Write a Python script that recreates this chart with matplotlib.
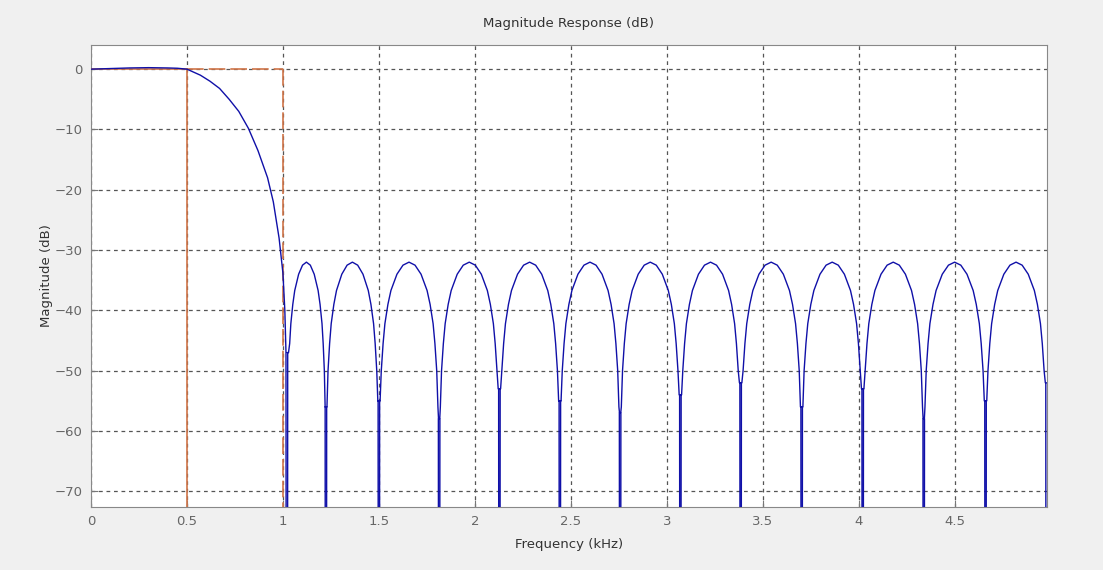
#!/usr/bin/env python3
import numpy as np
import matplotlib
matplotlib.use('Agg')
import matplotlib.pyplot as plt

# Banda passante e transizione
pass_f = [0.0, 0.1, 0.2, 0.3, 0.4, 0.45, 0.5, 0.57, 0.62, 0.67, 0.72, 0.77, 0.82,
          0.87, 0.92, 0.95, 0.98, 1.0, 1.01, 1.016]
pass_db = [0.0, 0.1, 0.2, 0.25, 0.2, 0.15, 0.0, -1.0, -2.0, -3.2, -5.0, -7.0, -9.8,
           -13.5, -18.0, -22.0, -28.0, -33.8, -40.0, -47.0]

# Zeri della banda attenuata (kHz) e profondita' visibile della punta (dB)
null_f = [1.021, 1.224, 1.500, 1.814, 2.128, 2.443, 2.757, 3.071, 3.385,
          3.703, 4.021, 4.339, 4.661, 4.979]
null_tip = [-47, -56, -55, -58, -53, -55, -57, -54, -52, -56, -53, -58, -55, -52]
lobe_peak = [-32.0] * 13

# Forma del lobo: posizione relativa tra due zeri e dB rispetto al picco
lobe_pos = [0.01, 0.02, 0.04, 0.07, 0.10, 0.15, 0.20, 0.30, 0.40, 0.50,
            0.60, 0.70, 0.80, 0.85, 0.90, 0.93, 0.96, 0.98, 0.99]
lobe_rel = [-28, -24, -18, -13.5, -10.2, -7.0, -4.7, -2.0, -0.5, 0.0,
            -0.5, -2.0, -4.7, -7.0, -10.2, -13.5, -18, -24, -28]

tick_x = [0, 0.5, 1, 1.5, 2, 2.5, 3, 3.5, 4, 4.5]
tick_y = [0, -10, -20, -30, -40, -50, -60, -70]

# Costruisci la curva
f = list(pass_f)
m = list(pass_db)
for i in range(len(null_f) - 1):
    fa, fb = null_f[i], null_f[i + 1]
    f += [fa]
    m += [-300]
    f += [fa + 0.004]
    m += [null_tip[i]]
    for p, r in zip(lobe_pos, lobe_rel):
        f.append(fa + p * (fb - fa))
        m.append(max(lobe_peak[i] + r, null_tip[i + 1]) if p > 0.5 else max(lobe_peak[i] + r, null_tip[i]))
    f += [fb - 0.004]
    m += [null_tip[i + 1]]
f += [null_f[-1]]
m += [-300]

fig = plt.figure(figsize=(11.03, 5.70), dpi=100, facecolor='#f0f0f0')
ax = fig.add_axes([0.0825, 0.1105, 0.8665, 0.8105])
ax.set_facecolor('white')

mask = '#cf7448'
ax.plot([0, 0.5], [0, 0], color=mask, lw=1.2, zorder=3)
ax.plot([0.5, 0.5], [0, -80], color=mask, lw=1.2, zorder=3)
ax.plot([0.5, 1.0], [0, 0], color=mask, lw=1.2, dashes=(10, 3), zorder=3)
ax.plot([1.0, 1.0], [0, -80], color=mask, lw=1.2, dashes=(10, 3), zorder=3)

ax.plot(f, m, color='#1010a8', lw=1.0, zorder=4)

ax.set_xlim(0, 4.98)
ax.set_ylim(-72.6, 4.0)
ax.set_xticks(tick_x)
ax.set_xticklabels(['0', '0.5', '1', '1.5', '2', '2.5', '3', '3.5', '4', '4.5'])
ax.set_yticks(tick_y)
ax.grid(True, color='#555555', linestyle=(0, (3, 3)), linewidth=0.9)
ax.tick_params(direction='in', length=5, color='#777777', labelcolor='#666666',
               labelsize=9.5, pad=6)
for s in ax.spines.values():
    s.set_color('#888888')

ax.set_title('Magnitude Response (dB)', fontsize=9.5, color='#333333', pad=13)
ax.set_xlabel('Frequency (kHz)', fontsize=9.5, color='#333333', labelpad=7)
ax.set_ylabel('Magnitude (dB)', fontsize=9.5, color='#333333', labelpad=1)

plt.savefig('out.png', dpi=100, facecolor=fig.get_facecolor())
print("Saved plot to out.png")
